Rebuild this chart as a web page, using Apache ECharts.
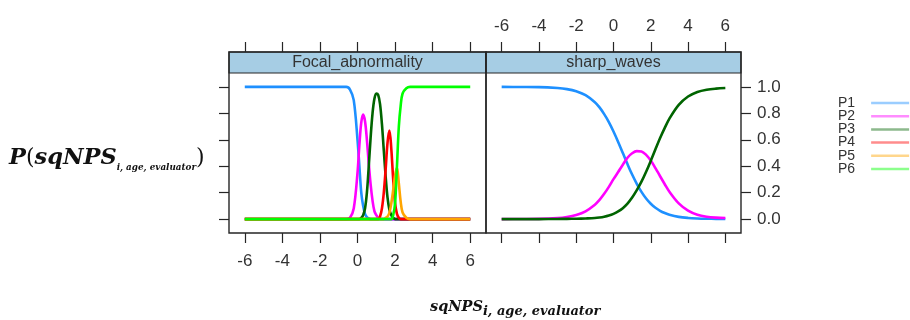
<!DOCTYPE html>
<html>
<head>
<meta charset="utf-8">
<script src="https://cdn.jsdelivr.net/npm/echarts@6/dist/echarts.min.js"></script>
<style>
  html, body { margin: 0; padding: 0; background: #fff; }
  #chart { width: 910px; height: 320px; }
</style>
</head>
<body>
<div id="chart"></div>
<script>
// panel 1: Focal_abnormality
const leftX = [-6, -0.8, -0.6, -0.4, -0.2, 0, 0.1, 0.2, 0.3, 0.4, 0.5, 0.6, 0.7, 0.8, 0.9, 1.0, 1.1, 1.2, 1.3, 1.4, 1.5, 1.6, 1.7, 1.8, 1.9, 2.0, 2.1, 2.2, 2.3, 2.4, 2.6, 2.8, 3.2, 6];
const focalP1 = [1, 1, 1, 0.98, 0.9, 0.6, 0.4, 0.2, 0.1, 0.04, 0.015, 0.005, 0, 0, 0, 0, 0, 0, 0, 0, 0, 0, 0, 0, 0, 0, 0, 0, 0, 0, 0, 0, 0, 0];
const focalP2 = [0, 0, 0, 0.01, 0.08, 0.35, 0.56, 0.73, 0.79, 0.74, 0.6, 0.42, 0.26, 0.14, 0.06, 0.03, 0.01, 0, 0, 0, 0, 0, 0, 0, 0, 0, 0, 0, 0, 0, 0, 0, 0, 0];
const focalP3 = [0, 0, 0, 0, 0, 0, 0, 0.01, 0.03, 0.08, 0.2, 0.4, 0.62, 0.8, 0.91, 0.95, 0.94, 0.87, 0.72, 0.52, 0.32, 0.16, 0.07, 0.03, 0.01, 0, 0, 0, 0, 0, 0, 0, 0, 0];
const focalP4 = [0, 0, 0, 0, 0, 0, 0, 0, 0, 0, 0, 0, 0, 0, 0, 0, 0, 0.02, 0.08, 0.2, 0.38, 0.58, 0.67, 0.53, 0.3, 0.12, 0.04, 0.01, 0, 0, 0, 0, 0, 0];
const focalP5 = [0, 0, 0, 0, 0, 0, 0, 0, 0, 0, 0, 0, 0, 0, 0, 0, 0, 0, 0, 0, 0.01, 0.02, 0.05, 0.12, 0.22, 0.33, 0.39, 0.27, 0.13, 0.05, 0.01, 0, 0, 0];
const focalP6 = [0, 0, 0, 0, 0, 0, 0, 0, 0, 0, 0, 0, 0, 0, 0, 0, 0, 0, 0, 0, 0, 0, 0, 0, 0.03, 0.12, 0.4, 0.7, 0.86, 0.95, 0.99, 1, 1, 1];

// panel 2: sharp_waves (only P1..P3)
const rightX = [-6, -5, -4, -3, -2.5, -2, -1.5, -1, -0.75, -0.5, -0.25, 0, 0.25, 0.5, 0.75, 1, 1.25, 1.5, 1.75, 2, 2.25, 2.5, 2.75, 3, 3.5, 4, 4.5, 5, 5.5, 6];
const sharpP1 = [1, 0.999, 0.998, 0.991, 0.983, 0.967, 0.937, 0.884, 0.845, 0.794, 0.734, 0.663, 0.584, 0.5, 0.416, 0.337, 0.267, 0.206, 0.156, 0.116, 0.086, 0.063, 0.046, 0.033, 0.017, 0.009, 0.005, 0.003, 0.002, 0.001];
const sharpP2 = [0, 0.001, 0.002, 0.008, 0.016, 0.031, 0.059, 0.109, 0.145, 0.191, 0.244, 0.302, 0.356, 0.411, 0.464, 0.498, 0.514, 0.511, 0.486, 0.443, 0.386, 0.324, 0.264, 0.207, 0.119, 0.064, 0.033, 0.018, 0.011, 0.008];
const sharpP3 = [0, 0, 0, 0.001, 0.002, 0.003, 0.005, 0.008, 0.012, 0.018, 0.027, 0.04, 0.058, 0.083, 0.117, 0.163, 0.219, 0.283, 0.358, 0.441, 0.528, 0.613, 0.69, 0.76, 0.864, 0.927, 0.962, 0.979, 0.987, 0.991];

const panelNames = ['Focal_abnormality', 'sharp_waves'];
const levelNames = ['P1', 'P2', 'P3', 'P4', 'P5', 'P6'];
const xTicks = [-6, -4, -2, 0, 2, 4, 6];
const yTicks = [0, 0.2, 0.4, 0.6, 0.8, 1.0];

const colors = ['#1e90ff', '#ff00ff', '#006400', '#ff0000', '#ffa500', '#00ff00'];
const frameColor = '#262626';
const labelFont = 'Liberation Sans, Arial, sans-serif';

const chart = echarts.init(document.getElementById('chart'), null, { renderer: 'canvas' });

const pairs = (xs, ys) => xs.map((x, i) => [x, ys[i]]);

// x axis helper, ticks drawn outward from the panel
const makeX = (gridIndex, position, showLabel) => ({
	type: 'value',
	gridIndex: gridIndex,
	position: position,
	min: -6.84,
	max: 6.84,
	axisLine: { show: false, onZero: false },
	splitLine: { show: false },
	axisTick: {
		show: true,
		length: 10,
		customValues: xTicks,
		lineStyle: { color: frameColor, width: 1.2 }
	},
	axisLabel: {
		show: showLabel,
		customValues: xTicks,
		margin: position === 'bottom' ? 20 : 17,
		fontSize: 17,
		color: '#333',
		fontFamily: labelFont
	}
});

const makeY = (gridIndex, position, showTick, showLabel) => ({
	type: 'value',
	gridIndex: gridIndex,
	position: position,
	min: -0.105,
	max: 1.105,
	show: showTick,
	axisLine: { show: false, onZero: false },
	splitLine: { show: false },
	axisTick: {
		show: showTick,
		length: 10,
		customValues: yTicks,
		lineStyle: { color: frameColor, width: 1.2 }
	},
	axisLabel: {
		show: showLabel,
		customValues: yTicks,
		margin: 16,
		fontSize: 17,
		color: '#333',
		fontFamily: labelFont,
		formatter: (v) => v.toFixed(1)
	}
});

const focalData = [focalP1, focalP2, focalP3, focalP4, focalP5, focalP6];
const sharpData = [sharpP1, sharpP2, sharpP3];

const series = [];
focalData.forEach((ys, i) => {
	series.push({
		name: levelNames[i],
		type: 'line',
		xAxisIndex: 0,
		yAxisIndex: 0,
		data: pairs(leftX, ys),
		symbol: 'none',
		smooth: 0.35,
		color: colors[i],
		lineStyle: { width: 2.6, color: colors[i] }
	});
});
sharpData.forEach((ys, i) => {
	series.push({
		name: levelNames[i],
		type: 'line',
		xAxisIndex: 1,
		yAxisIndex: 1,
		data: pairs(rightX, ys),
		symbol: 'none',
		smooth: 0.35,
		color: colors[i],
		lineStyle: { width: 2.6, color: colors[i] }
	});
});

const option = {
	animation: false,
	backgroundColor: '#fff',
	grid: [
		{ left: 229, top: 73, width: 257, height: 160 },
		{ left: 486, top: 73, width: 255, height: 160 },
		{ left: 229, top: 52, width: 257, height: 181 },
		{ left: 486, top: 52, width: 255, height: 181 }
	],
	xAxis: [
		makeX(0, 'bottom', true),
		makeX(1, 'bottom', false),
		makeX(2, 'top', false),
		makeX(3, 'top', true)
	],
	yAxis: [
		makeY(0, 'left', true, false),
		makeY(1, 'right', true, true),
		makeY(2, 'left', false, false),
		makeY(3, 'right', false, false)
	],
	legend: {
		data: levelNames,
		orient: 'vertical',
		left: 833,
		top: 91,
		align: 'right',
		icon: 'rect',
		itemWidth: 38,
		itemHeight: 2.5,
		itemGap: -0.8,
		textStyle: {
			fontSize: 14,
			lineHeight: 13,
			color: '#333',
			fontFamily: labelFont,
			padding: [0, 11, 0, 0]
		},
		itemStyle: { opacity: 0.45 }
	},
	graphic: [
		// strips
		{ type: 'rect', shape: { x: 229, y: 52, width: 257, height: 21 }, style: { fill: '#a6cde4', stroke: frameColor, lineWidth: 1.2 } },
		{ type: 'rect', shape: { x: 486, y: 52, width: 255, height: 21 }, style: { fill: '#a6cde4', stroke: frameColor, lineWidth: 1.2 } },
		// panel frames
		{ type: 'rect', shape: { x: 229, y: 52, width: 257, height: 181 }, style: { fill: 'none', stroke: frameColor, lineWidth: 1.4 } },
		{ type: 'rect', shape: { x: 486, y: 52, width: 255, height: 181 }, style: { fill: 'none', stroke: frameColor, lineWidth: 1.4 } },
		{
			type: 'text', x: 357.5, y: 63,
			style: { text: panelNames[0], font: '16px ' + labelFont, fill: '#333', align: 'center', verticalAlign: 'middle' }
		},
		{
			type: 'text', x: 613.5, y: 63,
			style: { text: panelNames[1], font: '16px ' + labelFont, fill: '#333', align: 'center', verticalAlign: 'middle' }
		},
		// y title
		{
			type: 'text', x: 9, y: 158,
			style: {
				text: '{m|P}{p|(}{m|sqNPS}{s|i, age, evaluator}{p|)}',
				align: 'left',
				verticalAlign: 'middle',
				rich: {
					m: { fontFamily: 'DejaVu Serif', fontWeight: 'bold', fontStyle: 'italic', fontSize: 22.5, lineHeight: 28, fill: '#111' },
					p: { fontFamily: 'DejaVu Serif', fontSize: 22, lineHeight: 28, fill: '#111' },
					s: { fontFamily: 'DejaVu Serif', fontWeight: 'bold', fontStyle: 'italic', fontSize: 8.8, lineHeight: 11, verticalAlign: 'bottom', fill: '#111' }
				}
			}
		},
		// x title
		{
			type: 'text', x: 430, y: 307,
			style: {
				text: '{m|sqNPS}{s|i, age, evaluator}',
				align: 'left',
				verticalAlign: 'middle',
				rich: {
					m: { fontFamily: 'DejaVu Serif', fontWeight: 'bold', fontStyle: 'italic', fontSize: 14.5, lineHeight: 22, fill: '#111' },
					s: { fontFamily: 'DejaVu Serif', fontWeight: 'bold', fontStyle: 'italic', fontSize: 13, lineHeight: 14, verticalAlign: 'bottom', fill: '#111' }
				}
			}
		}
	],
	series: series
};

chart.setOption(option);
window.addEventListener('resize', chart.resize);
</script>
</body>
</html>
